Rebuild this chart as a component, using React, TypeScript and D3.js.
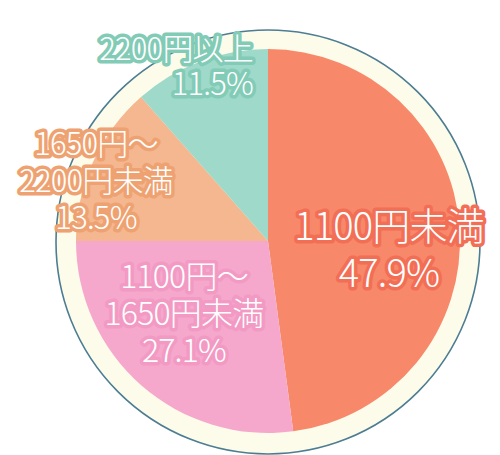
import React from 'react';
import * as d3 from 'd3';

const categories = ['1100円未満', '1100円～1650円未満', '1650円～2200円未満', '2200円以上'];
const values = [47.9, 27.1, 13.5, 11.5];
const sliceColors = ['#F7886A', '#F5A8CC', '#F4B78F', '#9FD9C9'];
const haloColors = ['#F26E55', '#F29AC4', '#EFA271', '#82CBB6'];
const labelLines = [
    ['1100円未満', '47.9%'],
    ['1100円～', '1650円未満', '27.1%'],
    ['1650円～', '2200円未満', '13.5%'],
    ['2200円以上', '11.5%'],
];

const width = 500, height = 455;
const cx = 268, cy = 241;
const radius = 192;

// label placement per slice: [x, first baseline, line gap, font size, anchor]
const labelPos: [number, number, number, number, string][] = [
    [389, 240, 47, 38, 'middle'],
    [184, 288, 37, 32, 'middle'],
    [96, 155, 37, 31, 'middle'],
    [253, 60, 35, 31, 'end'],
];

const App: React.FC = () => {
    const pie = d3.pie<number>().sort(null).value(d => d);
    const arcs = pie(values);
    const arc = d3.arc<d3.PieArcDatum<number>>().innerRadius(0).outerRadius(radius);

    return (
        <div style={{ position: 'fixed', left: 0, top: 0 }}>
            <svg width={width} height={height} style={{ display: 'block', background: '#fff' }}>
                <circle cx={cx} cy={cy + 1} r={212} fill="#FDFCEA" stroke="#4D7D93" strokeWidth={1.6} />
                <g transform={`translate(${cx},${cy})`}>
                    {arcs.map((a, i) => (
                        <path key={categories[i]} d={arc(a) || ''} fill={sliceColors[i]} />
                    ))}
                </g>
                {labelLines.map((lines, i) => {
                    const [x, y0, gap, fs, anchor] = labelPos[i];
                    return (
                        <text
                            key={categories[i]}
                            fontFamily="'Noto Sans CJK JP', 'Noto Sans', sans-serif"
                            fontSize={fs}
                            fontWeight={300}
                            textAnchor={anchor}
                            fill="#fff"
                            stroke={haloColors[i]}
                            strokeWidth={7}
                            strokeLinejoin="round"
                            style={{ paintOrder: 'stroke', letterSpacing: '-0.8px' }}
                        >
                            {lines.map((t, j) => (
                                <tspan key={j} x={x} y={y0 + j * gap}>{t}</tspan>
                            ))}
                        </text>
                    );
                })}
            </svg>
        </div>
    );
};

export default App;
